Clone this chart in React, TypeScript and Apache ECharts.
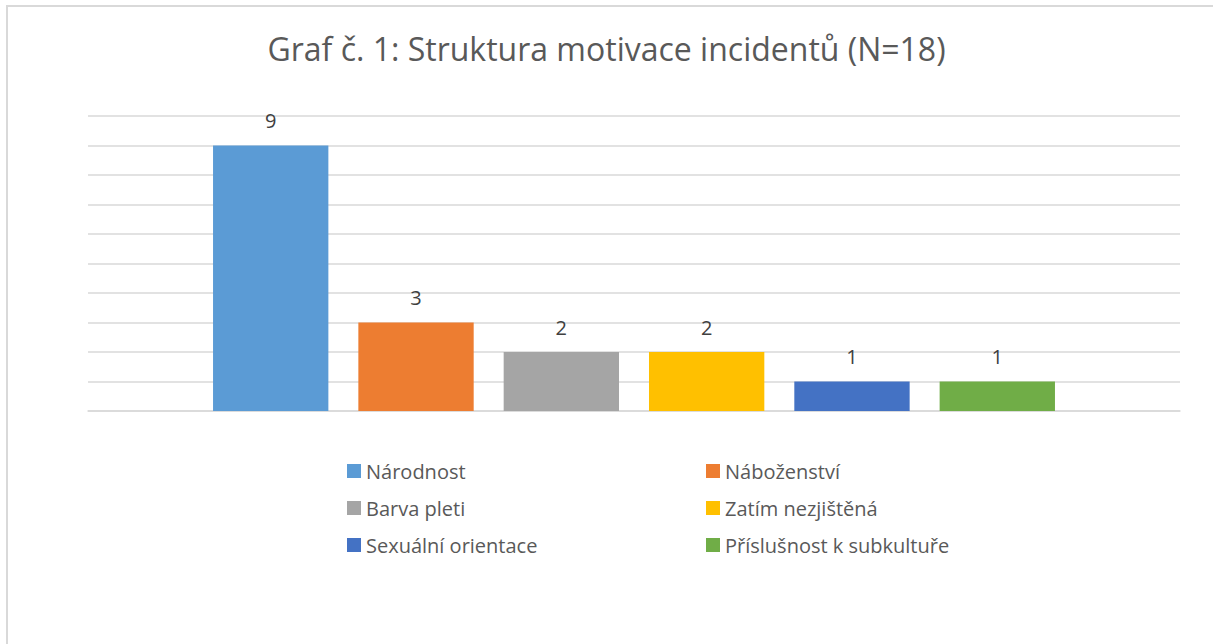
import React, { useEffect, useRef } from "react";
import * as echarts from "echarts";

const titleText = "Graf č. 1: Struktura motivace incidentů (N=18)";
const seriesNames = [
  "Národnost",
  "Náboženství",
  "Barva pleti",
  "Zatím nezjištěná",
  "Sexuální orientace",
  "Příslušnost k subkultuře",
];
const seriesValues = [9, 3, 2, 2, 1, 1];
const seriesColors = ["#5B9BD5", "#ED7D31", "#A5A5A5", "#FFC000", "#4472C4", "#70AD47"];
const categories = [""];
const legendLeftColumn = ["Národnost", "Barva pleti", "Sexuální orientace"];
const legendRightColumn = ["Náboženství", "Zatím nezjištěná", "Příslušnost k subkultuře"];

const FONT = "'Open Sans', 'Noto Sans', sans-serif";

export default function App() {
  const ref = useRef<HTMLDivElement>(null);
  useEffect(() => {
    if (!ref.current) return;
    const chart = echarts.init(ref.current, undefined, { renderer: "svg" });
    const legendCommon = {
      orient: "vertical",
      icon: "rect",
      itemWidth: 14,
      itemHeight: 14,
      itemGap: 17,
      padding: 0,
      textStyle: { fontSize: 20, color: "#595959", fontFamily: FONT },
      selectedMode: false,
    };
    chart.setOption({
      animation: false,
      backgroundColor: "#ffffff",
      title: {
        text: titleText,
        left: "center",
        top: 32,
        padding: 0,
        textStyle: { fontSize: 32, fontWeight: "normal", color: "#595959", fontFamily: FONT },
      },
      legend: [
        { ...legendCommon, left: 347, top: 461, data: legendLeftColumn },
        { ...legendCommon, left: 706, top: 461, data: legendRightColumn },
      ],
      grid: { left: 88, right: 33, top: 116, bottom: 233 },
      xAxis: {
        type: "category",
        data: categories,
        axisLine: { lineStyle: { color: "#d9d9d9", width: 1.5 } },
        axisTick: { show: false },
        axisLabel: { show: false },
      },
      yAxis: {
        type: "value",
        min: 0,
        max: 10,
        interval: 1,
        axisLabel: { show: false },
        axisLine: { show: false },
        axisTick: { show: false },
        splitLine: { lineStyle: { color: "#d9d9d9", width: 1.5 } },
      },
      series: seriesNames.map((name, i) => ({
        name,
        type: "bar",
        data: [seriesValues[i]],
        itemStyle: { color: seriesColors[i] },
        barCategoryGap: "22.9%",
        barGap: "26%",
        label: {
          show: true,
          position: "top",
          distance: 15,
          fontSize: 20,
          color: "#404040",
          fontFamily: FONT,
        },
      })),
      graphic: [
        {
          type: "rect",
          shape: { x: 7, y: 6, width: 1400, height: 800 },
          style: { fill: "none", stroke: "#d9d9d9", lineWidth: 2 },
          silent: true,
        },
      ],
    });
    return () => chart.dispose();
  }, []);
  return (
    <div
      ref={ref}
      style={{ position: "fixed", left: 0, top: 0, width: 1213, height: 644 }}
    />
  );
}
